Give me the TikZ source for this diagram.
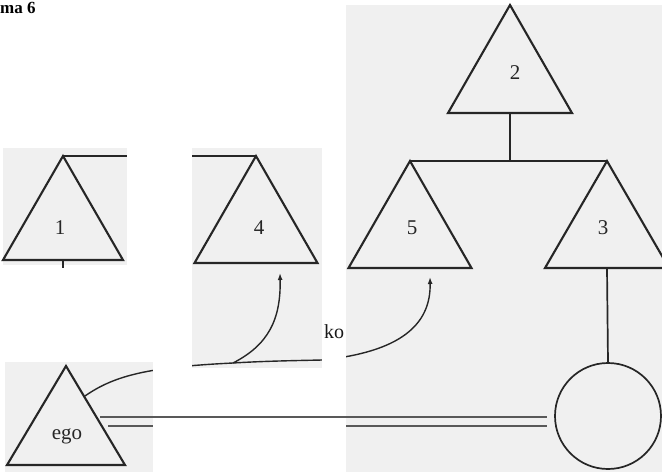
\documentclass[tikz,border=0pt]{standalone}
\usepackage{fontspec}
\setmainfont{Liberation Serif}
\usetikzlibrary{arrows.meta}
\definecolor{scan}{gray}{0.94}
\tikzset{
  pics/tri/.style n args={2}{code={
    \draw[trishape] (0,0) -- (-#1/2,#2) -- (#1/2,#2) -- cycle;
    \coordinate (-apex) at (0,0);
    \coordinate (-base) at (0,#2);
  }},
}
\begin{document}
\begin{tikzpicture}[x=1pt,y=-1pt,
  ink/.style={draw=black!85},
  trishape/.style={ink, line width=2.1pt, line join=miter},
  link/.style={ink, line width=1.7pt},
  dbl/.style={draw=black!65, line width=1.3pt},
  curve/.style={ink, line width=1.4pt},
  tip/.style={-{Latex[length=7pt,width=5pt]}},
  lbl/.style={font=\fontsize{21}{24}\selectfont, text=black!85, inner sep=0pt},
  patch/.style={fill=scan, draw=none},
  blank/.style={fill=white, draw=none}]
\useasboundingbox (0,0) rectangle (662,472);

% scanned paper patches
\fill[patch] (3,148) rectangle (127,265);
\fill[patch] (192,148) rectangle (322,368);
\fill[patch] (5,362) rectangle (153,472);
\fill[patch] (346,5) rectangle (662,472);

% cut-off heading
\node[font=\bfseries\fontsize{17}{19}\selectfont, anchor=base west, inner sep=0pt] (head) at (0,13) {ma 6};

% triangles
\pic (t2) at (510,5) {tri={124}{108}};
\pic (t5) at (410,161) {tri={123}{107}};
\pic (t3) at (607,161) {tri={124}{107}};
\pic (t1) at (63,156) {tri={120}{104}};
\pic (t4) at (256,156) {tri={123}{107}};
\pic (te) at (66,366) {tri={118}{99}};

\node[lbl] (l2) at (515,73) {2};
\node[lbl] (l5) at (412,228) {5};
\node[lbl] (l3) at (603,228) {3};
\node[lbl] (l1) at (60,228) {1};
\node[lbl] (l4) at (259,228) {4};
\node[lbl] (lego) at (67,436) {ego};

% circle
\node[circle, draw=black!85, line width=1.7pt, minimum size=106pt, inner sep=0pt] (mo) at (608,416) {};

% genealogical links
\draw[link] (t2-base) -- (t2-base |- t5-apex);
\draw[link] (t5-apex) -- (t3-apex);
\draw[link] (t3-base) -- (mo.north);
\coordinate (a1) at (127,156);
\coordinate (a2) at (192,156);
\draw[link] (t1-apex) -- (a1);
\draw[link] (a2) -- (t4-apex);
\coordinate (tick) at (63,268);
\draw[link] (t1-base) -- (tick);

% curves with arrows
\coordinate (c0) at (85,396);
\coordinate (cb) at (233,363);
\coordinate (c1) at (322,360);
\coordinate (ar5) at (430,277);
\coordinate (ar4) at (280,273);
\draw[curve] (c0) .. controls (115,375) and (150,367) .. (cb)
  .. controls (265,361) and (300,360.5) .. (c1);
\draw[curve, tip] (c1) .. controls (400,352) and (431,325) .. (ar5);
\draw[curve, tip] (cb) .. controls (268,345) and (281,320) .. (ar4);

% lower double line strand
\coordinate (e2) at (108,426);
\coordinate (d2) at (547,426);
\draw[dbl] (e2) -- (d2);

% pasted-over blank areas
\fill[blank] (153,368) rectangle (346,472);
\fill[blank] (153,290) rectangle (192,368);
\fill[blank] (322,290) rectangle (346,368);

% upper double line strand
\coordinate (e1) at (100,417);
\coordinate (d1) at (547,417);
\draw[dbl] (e1) -- (d1);

\node[font=\fontsize{20}{22}\selectfont, text=black!90, inner sep=0pt] (ko) at (334,332) {ko};
\end{tikzpicture}
\end{document}
